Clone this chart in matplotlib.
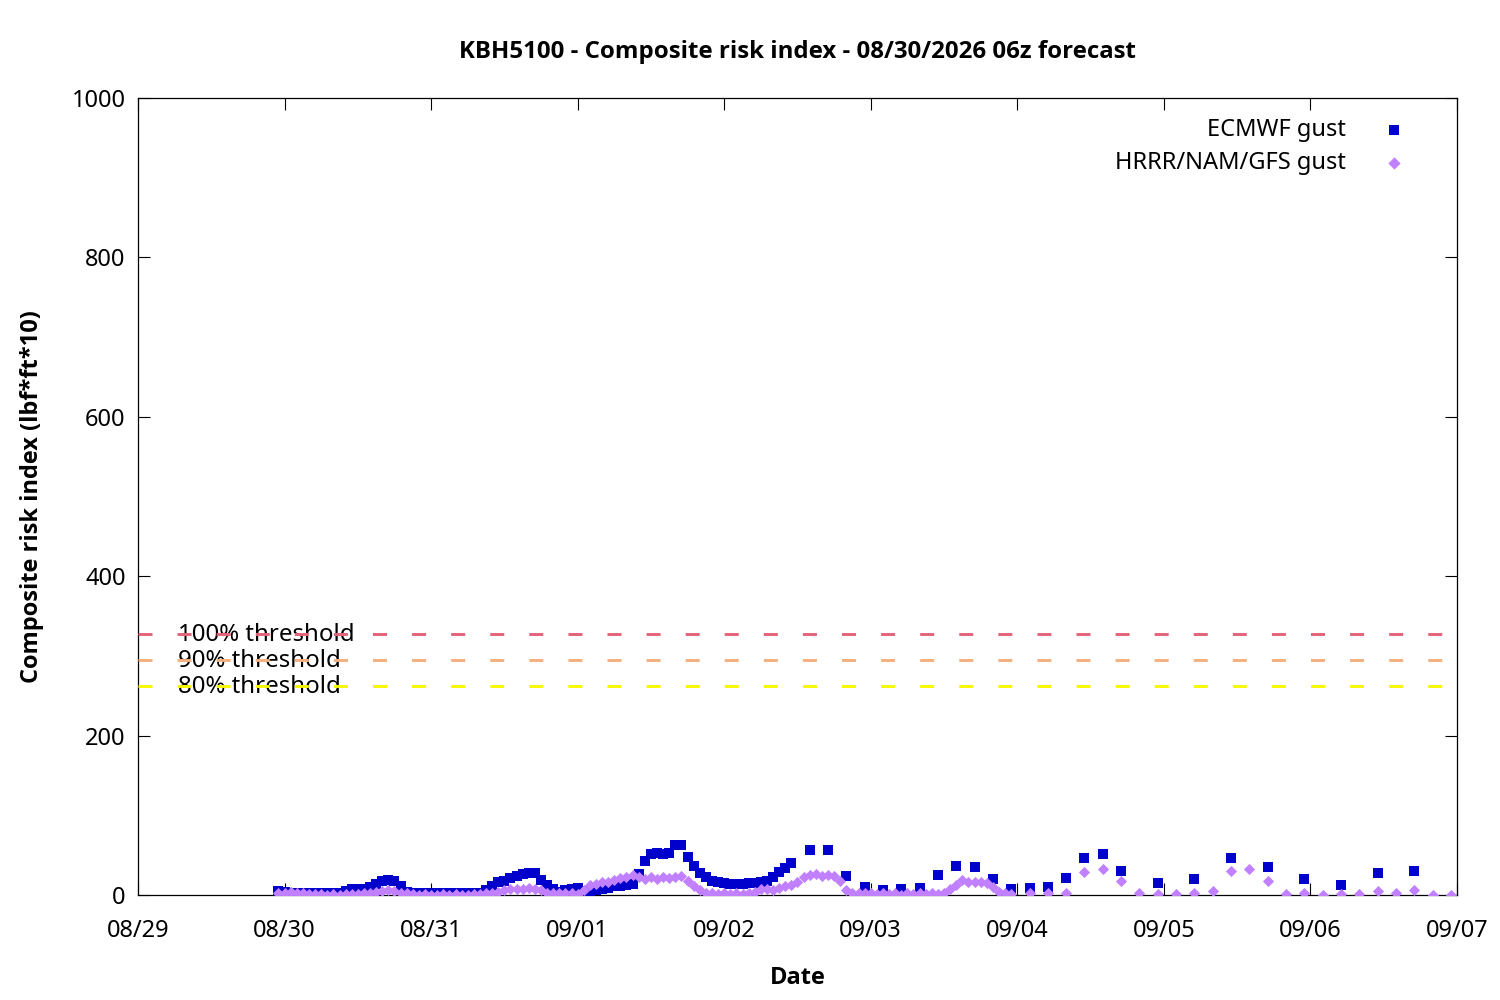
import matplotlib
matplotlib.use("Agg")
import matplotlib.pyplot as plt
from matplotlib import font_manager

plt.rcParams['font.family'] = ['Noto Sans', 'DejaVu Sans']

# pick a family that really has a bold face
bold_family = 'DejaVu Sans'
for fam in ['Noto Sans', 'Open Sans', 'Lato', 'Roboto']:
    try:
        fp = font_manager.FontProperties(family=fam, weight='bold')
        path = font_manager.findfont(fp, fallback_to_default=False)
        f = font_manager.get_font(path)
        if 'bold' in f.style_name.lower() or 'bold' in path.lower():
            bold_family = fam
            break
    except Exception:
        pass

# ---- data (time = hours after 08/29 00:00 local) ----
day_labels = ["08/29", "08/30", "08/31", "09/01", "09/02", "09/03",
              "09/04", "09/05", "09/06", "09/07"]

ecmwf_hours = list(range(23, 108)) + list(range(110, 162, 3)) + list(range(167, 210, 6))
ecmwf_vals = [
    # hourly 23..107
    5, 4, 3, 3, 2, 2, 2, 2, 2, 2, 3, 5, 7, 8, 8, 10, 14, 17, 19, 18,
    11, 4, 3, 2, 2, 2, 2, 2, 2, 2, 2, 2, 2, 3, 6, 11, 16, 18, 21, 24,
    26, 27, 27, 19, 12, 8, 4, 6, 8, 9, 5, 4, 6, 7, 9, 11, 11, 13, 14, 26,
    43, 51, 53, 52, 53, 63, 63, 48, 37, 28, 22, 18, 16, 15, 14, 14, 14, 15, 15, 16,
    17, 23, 29, 34, 40,
    # 3-hourly 110..161
    56, 56, 24, 10, 6, 7, 9, 25, 36, 35, 20, 7, 9, 10, 21, 46, 51, 30,
    # 6-hourly 167..209
    15, 20, 46, 35, 20, 13, 27, 30,
]

hrrr_hours = list(range(23, 144)) + list(range(146, 216, 3))
hrrr_vals = [
    # hourly 23..143
    3, 3, 4, 3, 2, 1, 1, 1, 0, 1, 0, 1, 1, 1, 2, 3, 4, 5, 6, 5,
    3, 2, 1, 0, 1, 0, 0, 1, 0, 1, 0, 0, 1, 1, 2, 3, 4, 6, 7, 8,
    8, 9, 8, 6, 3, 2, 2, 2, 2, 1, 6, 12, 14, 16, 16, 19, 21, 22, 25, 22,
    20, 22, 20, 22, 21, 22, 24, 18, 11, 6, 3, 2, 1, 2, 1, 2, 1, 2, 4, 7,
    8, 6, 9, 11, 12, 16, 23, 25, 26, 24, 25, 24, 17, 6, 3, 2, 2, 2, 1, 2,
    1, 2, 0, 2, 1, 2, 1, 2, 1, 3, 7, 12, 19, 16, 16, 16, 15, 10, 4, 2,
    1,
    # 3-hourly 146..215
    2, 2, 3, 29, 33, 18, 2, 1, 1, 2, 5, 30, 32, 17, 1, 2, 0, 1, 1, 5,
    3, 6, 0, 0,
]

threshold_full = 328
threshold_levels = [1.0, 0.9, 0.8]
threshold_names = ["100% threshold", "90% threshold", "80% threshold"]
threshold_colors = ["#e3637a", "#f5b07e", "#f8f800"]

FS = 17

# ---- figure ----
fig = plt.figure(figsize=(15, 10), dpi=100)
ax = fig.add_axes([0.092, 0.105, 0.8793, 0.797])

ax.scatter(ecmwf_hours, ecmwf_vals, marker='s', s=6.5**2, color='#0000cc',
           linewidths=0, label='ECMWF gust', zorder=3)
ax.scatter(hrrr_hours, hrrr_vals, marker='D', s=5.7**2, color='#c080ff',
           linewidths=0, label='HRRR/NAM/GFS gust', zorder=4)

for lvl, name, col in zip(threshold_levels, threshold_names, threshold_colors):
    yv = threshold_full * lvl
    ax.axhline(yv, color=col, lw=2.1, dashes=(4.8, 8.6), zorder=5)
    ax.text(6.55, yv - 2, name, fontsize=FS + 0.3, va='center', ha='left', zorder=4)

ax.set_xlim(0, 216)
ax.set_ylim(0, 1000)
ax.set_xticks(range(0, 217, 24))
ax.set_xticklabels(day_labels)
ax.set_yticks(range(0, 1001, 200))

ax.tick_params(axis='both', which='both', direction='in', length=8.5, width=0.8,
               top=True, right=True, labelsize=FS, colors='black')
ax.tick_params(axis='x', pad=17)
ax.tick_params(axis='y', pad=9)
for sp in ax.spines.values():
    sp.set_linewidth(0.9)

ax.set_xlabel('Date', fontsize=FS, fontweight='bold', family=bold_family, labelpad=17)
ax.set_ylabel('Composite risk index (lbf*ft*10)', fontsize=FS, fontweight='bold',
              family=bold_family, labelpad=20)
ax.set_title('KBH5100 - Composite risk index - 08/30/2026 06z forecast',
             fontsize=FS + 0.3, fontweight='bold', family=bold_family, pad=29)

leg = ax.legend(loc='upper right', frameon=False, fontsize=FS, markerfirst=False,
                handletextpad=1.05, borderaxespad=0.35, labelspacing=0.38,
                scatterpoints=1, markerscale=1.1, bbox_to_anchor=(0.9838, 0.997))
for t in leg.get_texts():
    t.set_ha('right')

fig.savefig('out.png', dpi=100)
